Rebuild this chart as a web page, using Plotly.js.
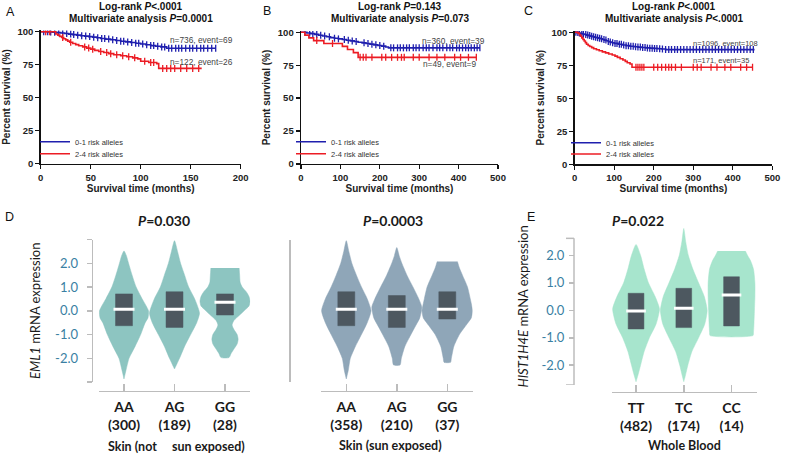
<!DOCTYPE html>
<html><head><meta charset="utf-8">
<script src="https://cdn.plot.ly/plotly-3.0.1.min.js"></script>
<style>body{margin:0;background:#fff}#chart{width:786px;height:457px}</style>
</head><body><div id="chart"></div>
<script>
// ---------------- Kaplan-Meier data ----------------
const groupNames = ['0-1 risk alleles', '2-4 risk alleles'];

const A_low_t = [0, 8, 12, 16, 20, 24, 28, 32, 36, 40, 44, 48, 52, 56, 60, 65, 70, 75, 80, 85, 90, 95, 100, 105, 110, 115, 120, 126, 175];
const A_low_s = [100, 99.8, 99.6, 99.3, 99.0, 98.6, 98.2, 97.8, 97.4, 97.0, 96.7, 96.3, 95.9, 95.4, 94.9, 94.4, 93.9, 93.4, 92.8, 92.3, 91.8, 91.3, 90.7, 90.1, 89.5, 89.0, 88.5, 87.5, 87.5];
const A_low_c = [3, 7, 10, 14, 18, 22, 26, 30, 33, 37, 41, 45, 49, 53, 57, 61, 64, 68, 72, 76, 80, 83, 87, 91, 95, 98, 102, 106, 110, 113, 117, 121, 124, 128, 131, 135, 138, 141, 145, 149, 152, 156, 160, 163, 167, 171, 175];
const A_high_t = [0, 15, 17, 19, 21, 23, 25, 27, 29, 32, 35, 38, 42, 46, 50, 54, 58, 63, 68, 73, 80, 86, 92, 97, 100, 108, 116, 118, 161];
const A_high_s = [100, 98.3, 97.4, 96.5, 95.6, 94.7, 93.8, 92.9, 92.0, 91.1, 90.2, 89.4, 88.5, 87.6, 86.8, 85.9, 85.0, 84.2, 83.4, 82.6, 81.8, 81.0, 80.2, 79.4, 77.6, 76.7, 75.8, 72.2, 72.2];
const A_high_c = [5, 9, 22, 30, 44, 48, 52, 60, 66, 70, 76, 82, 88, 94, 104, 110, 113, 122, 126, 130, 134, 140, 146, 152, 158];

const B_low_t = [0, 15, 25, 35, 45, 55, 65, 75, 85, 95, 105, 115, 125, 135, 145, 155, 165, 175, 185, 195, 205, 215, 222, 454];
const B_low_s = [100, 99.5, 99.0, 98.4, 97.8, 97.2, 96.6, 96.0, 95.5, 95.0, 94.5, 94.0, 93.5, 93.0, 92.5, 92.0, 91.5, 91.0, 90.5, 90.0, 89.5, 88.8, 88.2, 88.2];
const B_low_c = [10, 22, 30, 40, 50, 60, 72, 85, 95, 110, 120, 130, 140, 160, 170, 180, 190, 200, 210, 228, 235, 245, 252, 260, 268, 275, 285, 292, 300, 310, 318, 325, 335, 345, 352, 360, 370, 378, 385, 395, 402, 410, 418, 425, 432, 440, 447, 454];
const B_high_t = [0, 10, 20, 32, 58, 105, 118, 133, 145, 445];
const B_high_s = [100, 97.9, 95.8, 93.7, 91.5, 89.3, 87.0, 84.6, 81.0, 81.0];
const B_high_c = [40, 80, 150, 158, 165, 180, 205, 215, 230, 245, 255, 262, 285, 300, 325, 345, 365, 390, 405, 425, 445];

const C_low_t = [0, 5, 10, 15, 20, 25, 30, 35, 40, 45, 50, 55, 60, 65, 70, 75, 80, 85, 90, 95, 100, 110, 120, 130, 140, 150, 160, 170, 180, 190, 200, 210, 220, 230, 455];
const C_low_s = [100, 99.8, 99.5, 99.1, 98.7, 98.3, 97.9, 97.5, 97.1, 96.7, 96.3, 95.9, 95.5, 95.1, 94.6, 94.1, 93.6, 93.1, 92.6, 92.1, 91.6, 91.0, 90.4, 89.9, 89.5, 89.1, 88.8, 88.5, 88.2, 88.0, 87.8, 87.6, 87.4, 86.9, 86.9];
const C_low_c = [3, 8, 12, 18, 22, 28, 33, 38, 43, 48, 53, 58, 63, 68, 74, 79, 85, 90, 96, 102, 107, 113, 118, 124, 130, 136, 142, 148, 154, 160, 166, 172, 178, 184, 190, 196, 202, 208, 215, 222, 230, 238, 245, 253, 260, 268, 276, 284, 292, 300, 308, 316, 324, 332, 340, 348, 356, 364, 372, 380, 388, 396, 404, 412, 420, 428, 436, 444, 452];
const C_high_t = [0, 8, 12, 15, 18, 21, 24, 27, 30, 34, 38, 43, 48, 55, 62, 70, 78, 86, 95, 102, 108, 115, 122, 128, 133, 140, 145, 450];
const C_high_s = [100, 99.4, 98.2, 97.0, 95.8, 94.6, 93.4, 92.2, 91.0, 90.0, 89.2, 88.4, 87.6, 86.8, 86.0, 85.2, 84.4, 83.6, 82.8, 82.0, 81.0, 80.0, 79.0, 78.0, 77.0, 76.0, 73.5, 73.5];
const C_high_c = [155, 160, 165, 170, 175, 200, 210, 220, 230, 238, 245, 255, 270, 300, 310, 320, 345, 360, 380, 395, 420, 435, 450];

const kmTicksA = [0, 50, 100, 150, 200];
const kmTicksBC = [0, 100, 200, 300, 400, 500];
const kmTicksY = [0, 25, 50, 75, 100];

// ---------------- Violin data (profiles) ----------------
const catD = ['AA', 'AG', 'GG'];
const nDL = [300, 189, 28];
const nDR = [358, 210, 37];
const catE = ['TT', 'TC', 'CC'];
const nE = [482, 174, 14];

// D left: Skin (not sun exposed)
const DL_AA_y = [2.52, 2.3, 2.0, 1.5, 1.0, 0.5, 0.0, -0.3, -0.5, -1.0, -1.5, -2.0, -2.5, -2.87];
const DL_AA_w = [0, 0.05, 0.09, 0.16, 0.24, 0.36, 0.485, 0.475, 0.42, 0.33, 0.22, 0.10, 0.04, 0];
const DL_AG_y = [2.95, 2.5, 2.0, 1.5, 1.0, 0.5, -0.1, -0.5, -1.0, -1.5, -2.0, -2.45];
const DL_AG_w = [0, 0.06, 0.12, 0.2, 0.28, 0.4, 0.495, 0.44, 0.32, 0.2, 0.1, 0];
const DL_GG_y = [1.8, 1.5, 1.2, 1.0, 0.8, 0.6, 0.4, 0.2, 0.0, -0.2, -0.4, -0.6, -0.8, -1.0, -1.2, -1.4, -1.6, -1.8, -1.97];
const DL_GG_w = [0.28, 0.29, 0.3, 0.34, 0.42, 0.475, 0.495, 0.475, 0.38, 0.28, 0.18, 0.14, 0.18, 0.24, 0.26, 0.24, 0.18, 0.12, 0.08];
const DL_q1 = [-0.63, -0.70, -0.18];
const DL_med = [0.06, 0.06, 0.36];
const DL_q3 = [0.71, 0.80, 0.71];

// D right: Skin (sun exposed)
const DR_AA_y = [2.95, 2.5, 2.0, 1.5, 1.0, 0.5, 0.0, -0.5, -1.0, -1.5, -2.0, -2.5, -2.87];
const DR_AA_w = [0, 0.05, 0.11, 0.2, 0.3, 0.415, 0.49, 0.415, 0.3, 0.18, 0.08, 0.04, 0];
const DR_AG_y = [2.66, 2.3, 2.0, 1.5, 1.0, 0.5, 0.15, -0.3, -0.7, -1.0, -1.5, -2.0, -2.28];
const DR_AG_w = [0, 0.05, 0.1, 0.2, 0.32, 0.435, 0.495, 0.455, 0.355, 0.28, 0.16, 0.09, 0.065];
const DR_GG_y = [2.07, 1.8, 1.5, 1.0, 0.5, 0.0, -0.3, -0.6, -1.0, -1.5, -2.0, -2.17];
const DR_GG_w = [0.2, 0.24, 0.3, 0.4, 0.455, 0.5, 0.475, 0.375, 0.24, 0.13, 0.08, 0.065];
const DR_q1 = [-0.63, -0.70, -0.35];
const DR_med = [0.06, 0.06, 0.06];
const DR_q3 = [0.80, 0.64, 0.80];

// E: Whole Blood
const E_TT_y = [2.4, 2.0, 1.5, 1.0, 0.5, 0.05, -0.5, -1.0, -1.5, -2.0, -2.3, -2.6];
const E_TT_w = [0, 0.095, 0.17, 0.26, 0.4, 0.49, 0.42, 0.28, 0.17, 0.095, 0.05, 0];
const E_TC_y = [2.98, 2.5, 2.0, 1.5, 1.0, 0.5, 0.0, -0.5, -1.0, -1.5, -2.0, -2.4, -2.6];
const E_TC_w = [0, 0.04, 0.095, 0.19, 0.31, 0.43, 0.49, 0.44, 0.31, 0.17, 0.085, 0.03, 0];
const E_CC_y = [2.16, 2.0, 1.8, 1.5, 1.0, 0.5, 0.0, -0.5, -0.8, -0.92];
const E_CC_w = [0.29, 0.335, 0.4, 0.46, 0.49, 0.49, 0.48, 0.47, 0.46, 0.45];
const E_q1 = [-0.68, -0.63, -0.57];
const E_med = [-0.03, 0.07, 0.56];
const E_q3 = [0.62, 0.80, 1.22];

const yTickVals = [-2, -1, 0, 1, 2];
const yTickText = ['-2.0', '-1.0', '0.0', '1.0', '2.0'];

// ---------------- helpers ----------------
const fx = p => p / 786, fy = p => 1 - p / 457;
const BLUE = '#1f1fae', RED = '#ec1c24';
const KMFONT = 'Liberation Sans, Arial, sans-serif';
const GFONT = 'Lato, sans-serif';

function stepAt(ts, ss, t) { let v = ss[0]; for (let i = 0; i < ts.length; i++) { if (ts[i] <= t) v = ss[i]; } return v; }
function km(ts, ss, cens, color, name, k, lg) {
  const xa = 'x' + (k === 1 ? '' : k), ya = 'y' + (k === 1 ? '' : k);
  return [
    { type: 'scatter', x: ts, y: ss, mode: 'lines', line: { shape: 'hv', color: color, width: 1.6 }, name: name, legend: lg, xaxis: xa, yaxis: ya, hoverinfo: 'skip' },
    { type: 'scatter', x: cens, y: cens.map(c => stepAt(ts, ss, c)), mode: 'markers', marker: { symbol: 'line-ns', size: 5, color: color, line: { color: color, width: 1.3 } }, xaxis: xa, yaxis: ya, showlegend: false, hoverinfo: 'skip' }
  ];
}
function violin(center, ys, ws, color, k) {
  const x = [], y = [];
  ys.forEach((v, i) => { x.push(center + ws[i]); y.push(v); });
  for (let i = ys.length - 1; i >= 0; i--) { x.push(center - ws[i]); y.push(ys[i]); }
  return { type: 'scatter', x: x, y: y, mode: 'lines', fill: 'toself', fillcolor: color, line: { color: color, width: 0.5, shape: 'spline', smoothing: 0.6 }, xaxis: 'x' + k, yaxis: 'y' + k, showlegend: false, hoverinfo: 'skip' };
}
function boxes(q1, med, q3, hw, k, msize) {
  const out = [];
  q1.forEach((lo, i) => {
    out.push({ type: 'scatter', x: [i - hw, i + hw, i + hw, i - hw, i - hw], y: [lo, lo, q3[i], q3[i], lo], mode: 'lines', fill: 'toself', fillcolor: '#4d5860', line: { color: '#4d5860', width: 0.5 }, xaxis: 'x' + k, yaxis: 'y' + k, showlegend: false, hoverinfo: 'skip' });
  });
  out.push({ type: 'scatter', x: med.map((m, i) => i), y: med, mode: 'markers', marker: { symbol: 'line-ew', size: msize, color: '#ffffff', line: { color: '#ffffff', width: 3 } }, xaxis: 'x' + k, yaxis: 'y' + k, showlegend: false, hoverinfo: 'skip' });
  return out;
}

const traces = [
  ...km(A_low_t, A_low_s, A_low_c, BLUE, groupNames[0], 1, 'legend'),
  ...km(A_high_t, A_high_s, A_high_c, RED, groupNames[1], 1, 'legend4'),
  ...km(B_low_t, B_low_s, B_low_c, BLUE, groupNames[0], 2, 'legend2'),
  ...km(B_high_t, B_high_s, B_high_c, RED, groupNames[1], 2, 'legend5'),
  ...km(C_low_t, C_low_s, C_low_c, BLUE, groupNames[0], 3, 'legend3'),
  ...km(C_high_t, C_high_s, C_high_c, RED, groupNames[1], 3, 'legend6'),
  violin(0, DL_AA_y, DL_AA_w, '#8dc5c1', 4),
  violin(1, DL_AG_y, DL_AG_w, '#8dc5c1', 4),
  violin(2, DL_GG_y, DL_GG_w, '#8dc5c1', 4),
  ...boxes(DL_q1, DL_med, DL_q3, 0.168, 4, 15),
  violin(0, DR_AA_y, DR_AA_w, '#8fa6b8', 5),
  violin(1, DR_AG_y, DR_AG_w, '#8fa6b8', 5),
  violin(2, DR_GG_y, DR_GG_w, '#8fa6b8', 5),
  ...boxes(DR_q1, DR_med, DR_q3, 0.168, 5, 15),
  violin(0, E_TT_y, E_TT_w, '#a7e5cd', 6),
  violin(1, E_TC_y, E_TC_w, '#a7e5cd', 6),
  violin(2, E_CC_y, E_CC_w, '#a7e5cd', 6),
  ...boxes(E_q1, E_med, E_q3, 0.165, 6, 14)
];

// ---------------- axes ----------------
function kmX(dom, range, ticks, anchor) {
  return { domain: dom, range: range, anchor: anchor, showline: true, linecolor: '#111', linewidth: 1.4, ticks: 'outside', ticklen: 4, tickwidth: 1.4, tickcolor: '#111', tickvals: ticks, tickfont: { family: KMFONT, size: 9.5, weight: 'bold', color: '#222' }, showgrid: false, zeroline: false, fixedrange: true,
    title: { text: 'Survival time (months)', font: { family: KMFONT, size: 10, weight: 'bold', color: '#222' }, standoff: 3 } };
}
function kmY(dom, anchor) {
  return { domain: dom, range: [0, 101], anchor: anchor, showline: true, linecolor: '#111', linewidth: 1.4, ticks: 'outside', ticklen: 4, tickwidth: 1.4, tickcolor: '#111', tickvals: kmTicksY, tickfont: { family: KMFONT, size: 9.5, weight: 'bold', color: '#222' }, showgrid: false, zeroline: false, fixedrange: true,
    title: { text: 'Percent survival (%)', font: { family: KMFONT, size: 10, weight: 'bold', color: '#222' }, standoff: 5 } };
}
function catX(dom, range, cats, ns, pos) {
  return { domain: dom, range: range, anchor: 'free', position: pos, showline: true, linecolor: '#bcbcbc', linewidth: 1.5, ticks: 'inside', ticklen: 7, tickwidth: 1.5, tickcolor: '#bcbcbc',
    tickvals: [range[0], 0, 1, 2, range[1]], ticktext: ['', ...cats.map((c, i) => c + '<br>(' + ns[i] + ')'), ''],
    tickfont: { family: GFONT, size: 14, weight: 'bold', color: '#1a1a1a' }, ticklabelstandoff: 3, showgrid: false, zeroline: false, fixedrange: true };
}
function leg(px, py) {
  return { x: fx(px), y: fy(py), xanchor: 'left', yanchor: 'middle', font: { family: KMFONT, size: 7.5, color: '#333' }, bgcolor: 'rgba(0,0,0,0)', borderwidth: 0, tracegroupgap: 0 };
}
const AXC = '#bcbcbc';
const layout = {
  width: 786, height: 457, margin: { l: 0, r: 0, t: 0, b: 0 }, paper_bgcolor: '#fff', plot_bgcolor: 'rgba(0,0,0,0)', showlegend: true,
  xaxis: kmX([fx(40.7), fx(240.7)], [0, 200], kmTicksA, 'y'),
  yaxis: kmY([fy(163.7), fy(30.4)], 'x'),
  xaxis2: kmX([fx(301), fx(498)], [0, 500], kmTicksBC, 'y2'),
  yaxis2: kmY([fy(164), fy(31)], 'x2'),
  xaxis3: kmX([fx(574.7), fx(772.3)], [0, 500], kmTicksBC, 'y3'),
  yaxis3: kmY([fy(164.3), fy(31)], 'x3'),
  xaxis4: catX([fx(98.75), fx(250.25)], [-0.5, 2.5], catD, nDL, fy(390.7)),
  yaxis4: { domain: [fy(382), fy(239.5)], range: [-3, 3], anchor: 'free', position: fx(91.7), showline: true, linecolor: AXC, linewidth: 1.5, ticks: 'outside', ticklen: 5, tickwidth: 1.5, tickcolor: AXC,
    tickvals: [-3, ...yTickVals, 3], ticktext: ['', ...yTickText, ''], tickfont: { family: GFONT, size: 13, color: '#3a7fa3' }, ticklabelstandoff: 6, showgrid: false, zeroline: false, fixedrange: true,
    title: { text: '<i>EML1</i> mRNA expression', font: { family: GFONT, size: 13, color: '#1a1a1a' }, standoff: 10 } },
  xaxis5: catX([fx(321.05), fx(472.55)], [-0.5, 2.5], catD, nDR, fy(390.7)),
  yaxis5: { domain: [fy(382), fy(239.5)], range: [-3, 3], anchor: 'free', position: fx(289), showline: true, linecolor: AXC, linewidth: 1.5, ticks: '', showticklabels: false, showgrid: false, zeroline: false, fixedrange: true },
  xaxis6: catX([fx(611.7), fx(757.3)], [-0.51, 2.54], catE, nE, fy(391.7)),
  yaxis6: { domain: [fy(385), fy(227.9)], range: [-2.72, 3.0], anchor: 'free', position: fx(574), showline: false, ticks: 'outside', ticklen: 5, tickwidth: 1.5, tickcolor: AXC,
    tickvals: yTickVals, ticktext: yTickText, tickfont: { family: GFONT, size: 13, color: '#3a7fa3' }, ticklabelstandoff: 2, showgrid: false, zeroline: false, fixedrange: true,
    title: { text: '<i>HIST1H4E</i> mRNA expression', font: { family: GFONT, size: 13, color: '#1a1a1a' }, standoff: 8 } },
  legend: leg(35, 141.7), legend4: leg(35, 153.7),
  legend2: leg(291, 141.7), legend5: leg(291, 153.7),
  legend3: leg(566, 142.7), legend6: leg(566, 154),
  shapes: [
    { type: 'line', xref: 'paper', yref: 'y6', x0: fx(574), x1: fx(574), y0: -2.72, y1: 2.62, line: { color: AXC, width: 1.5 } },
    { type: 'line', xref: 'paper', yref: 'y6', x0: fx(566), x1: fx(574), y0: 2.62, y1: 2.62, line: { color: AXC, width: 1.5 } },
    { type: 'line', xref: 'paper', yref: 'y6', x0: fx(566), x1: fx(574), y0: -2.72, y1: -2.72, line: { color: AXC, width: 1.5 } }
  ],
  annotations: []
};

function ann(text, px, py, size, opts) {
  layout.annotations.push(Object.assign({ text: text, xref: 'paper', yref: 'paper', x: fx(px), y: fy(py), xanchor: 'center', yanchor: 'middle', showarrow: false,
    font: { family: KMFONT, size: size, color: '#111' } }, opts || {}));
}
// panel letters
ann('A', 10, 12, 12.5); ann('B', 267, 11, 12.5); ann('C', 528, 11, 12.5); ann('D', 9, 217, 12.5); ann('E', 531, 217, 12.5);
// KM titles
const tb = { font: { family: KMFONT, size: 10, weight: 'bold', color: '#111' } };
ann('Log-rank <i>P</i>&lt;.0001', 141, 7, 10, tb); ann('Multivariate analysis <i>P</i>=0.0001', 141, 18.5, 10, tb);
ann('Log-rank <i>P</i>=0.143', 400, 7, 10, tb); ann('Multivariate analysis <i>P</i>=0.073', 400, 18.5, 10, tb);
ann('Log-rank <i>P</i>&lt;.0001', 674, 7, 10, tb); ann('Multivariate analysis <i>P</i>&lt;.0001', 674, 18.5, 10, tb);
// n / events
const ng = s => ({ xanchor: 'left', font: { family: KMFONT, size: s, color: '#444' } });
ann('n=736, event=69', 168, 40, 8.3, ng(8.3)); ann('n=122, event=26', 168, 62.3, 8.3, ng(8.3));
ann('n=360, event=39', 420, 40.7, 8.3, ng(8.3)); ann('n=49, event=9', 421, 64, 8.3, ng(8.3));
ann('n=1096, event=108', 690.7, 43.5, 7.5, ng(7.5)); ann('n=171, event=35', 690.7, 61, 7.5, ng(7.5));
// D/E titles and group labels
const gt = { font: { family: GFONT, size: 14, weight: 'bold', color: '#1a1a1a' } };
ann('<i>P</i>=0.030', 164, 220, 14, gt); ann('<i>P</i>=0.0003', 393, 220, 14, gt); ann('<i>P</i>=0.022', 638, 220, 14, gt);
const gs = { font: { family: GFONT, size: 12.5, weight: 'bold', color: '#1a1a1a' } };
ann('Skin (not&nbsp;&nbsp;&nbsp;&nbsp; sun exposed)', 176.5, 446.5, 12.5, gs);
ann('Skin (sun exposed)', 390.5, 445.7, 12.5, gs);
ann('Whole Blood', 684, 445, 12.5, gs);

Plotly.newPlot('chart', traces, layout, { staticPlot: true, displayModeBar: false });
</script></body></html>
